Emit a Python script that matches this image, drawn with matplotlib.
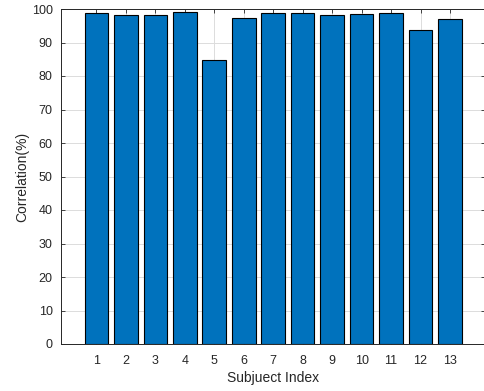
import matplotlib
matplotlib.use('Agg')
import matplotlib.pyplot as plt
import numpy as np

subjects = list(range(1, 14))
correlation = [98.9, 98.1, 98.1, 99.2, 84.8, 97.4, 98.9, 98.9, 98.1, 98.4, 98.9, 93.6, 97.1]

plt.rcParams['font.family'] = ['Liberation Sans', 'DejaVu Sans']

fig = plt.figure(figsize=(4.84, 3.91), dpi=100)
ax = fig.add_axes([61 / 484, 1 - 344 / 391, (485.4 - 61) / 484, (344 - 9) / 391])

ax.bar(subjects, correlation, width=0.8, color='#0072BD', edgecolor='black', linewidth=0.8, zorder=3)

ax.set_xlim(-0.2, 14.2)
ax.set_ylim(0, 100)
ax.set_xticks(subjects)
ax.set_yticks(np.arange(0, 101, 10))
ax.grid(True, color='#dcdcdc', linewidth=0.7, zorder=0)
ax.set_axisbelow(True)

for s in ax.spines.values():
    s.set_color('#262626')
    s.set_linewidth(0.7)
ax.tick_params(direction='in', top=True, right=True, length=3, width=0.6,
               colors='#262626', labelsize=9, labelcolor='#262626')
ax.tick_params(axis='x', pad=8)
ax.tick_params(axis='y', pad=6)

ax.set_xlabel('Subjuect Index', fontsize=10, color='#262626', labelpad=3)
ax.set_ylabel('Correlation(%)', fontsize=10, color='#262626', labelpad=2)

fig.savefig('out.png', dpi=100)
